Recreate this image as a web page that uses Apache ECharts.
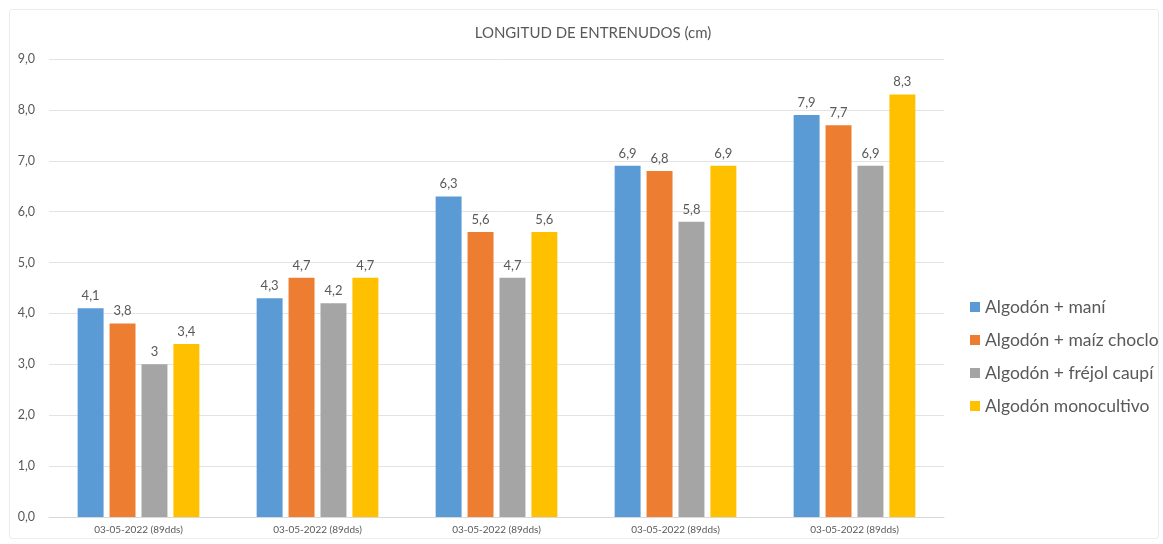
<!DOCTYPE html>
<html>
<head>
<meta charset="utf-8">
<script src="https://cdn.jsdelivr.net/npm/echarts@6/dist/echarts.min.js"></script>
<style>
  html, body { margin: 0; padding: 0; background: #fff; }
  #frame { position: absolute; left: 9px; top: 9px; width: 1150px; height: 530px;
           border: 1px solid #ececec; border-radius: 3px; box-sizing: border-box; }
  #chart { position: absolute; left: 0; top: 0; width: 1163px; height: 544px; }
</style>
</head>
<body>
<div id="frame"></div>
<div id="chart"></div>
<script>
// Fecha de muestreo para cada grupo de barras
const categories = [
  '03-05-2022 (89dds)', '03-05-2022 (89dds)', '03-05-2022 (89dds)',
  '03-05-2022 (89dds)', '03-05-2022 (89dds)'
];
const seriesNames = [
  'Algodón + maní',
  'Algodón + maíz choclo',
  'Algodón + fréjol caupí',
  'Algodón monocultivo'
];
// Longitud de entrenudos (cm) por tratamiento
const mani        = [4.1, 4.3, 6.3, 6.9, 7.9];
const maizChoclo  = [3.8, 4.7, 5.6, 6.8, 7.7];
const frejolCaupi = [3.0, 4.2, 4.7, 5.8, 6.9];
const monocultivo = [3.4, 4.7, 5.6, 6.9, 8.3];
const yTicks = [0, 1, 2, 3, 4, 5, 6, 7, 8, 9];

const colors = ['#5b9bd5', '#ed7d31', '#a5a5a5', '#ffc000'];
const values = [mani, maizChoclo, frejolCaupi, monocultivo];
const FONT = 'Lato, "Open Sans", sans-serif';
const fmt = v => String(v).replace('.', ',');

const chart = echarts.init(document.getElementById('chart'));
chart.setOption({
  animation: false,
  title: {
    text: 'LONGITUD DE ENTRENUDOS (cm)',
    left: 588, top: 21, textAlign: 'center',
    textStyle: { fontFamily: FONT, fontSize: 15, fontWeight: 'normal', color: '#595959' }
  },
  legend: {
    orient: 'vertical',
    left: 965, top: 293,
    itemWidth: 10, itemHeight: 10, itemGap: 15,
    icon: 'rect',
    textStyle: { fontFamily: FONT, fontSize: 17.5, color: '#595959' },
    data: seriesNames
  },
  grid: { left: 49, right: 219, top: 59, bottom: 27 },
  xAxis: {
    type: 'category',
    data: categories,
    axisLine: { lineStyle: { color: '#d9d9d9' } },
    axisTick: { show: false },
    axisLabel: { fontFamily: FONT, fontSize: 10, color: '#595959', margin: 8 }
  },
  yAxis: {
    type: 'value',
    min: yTicks[0], max: yTicks[yTicks.length - 1], interval: 1,
    axisLine: { show: false },
    axisTick: { show: false },
    splitLine: { lineStyle: { color: '#e3e3e3' } },
    axisLabel: {
      fontFamily: FONT, fontSize: 12.5, color: '#595959', margin: 14,
      formatter: v => v.toFixed(1).replace('.', ',')
    }
  },
  series: seriesNames.map((name, i) => ({
    name,
    type: 'bar',
    data: values[i],
    barGap: '23%',
    barCategoryGap: '32%',
    itemStyle: { color: colors[i] },
    label: {
      show: true, position: 'top', distance: 6,
      fontFamily: FONT, fontSize: 13, color: '#595959',
      formatter: p => fmt(p.value)
    }
  }))
});
</script>
</body>
</html>
